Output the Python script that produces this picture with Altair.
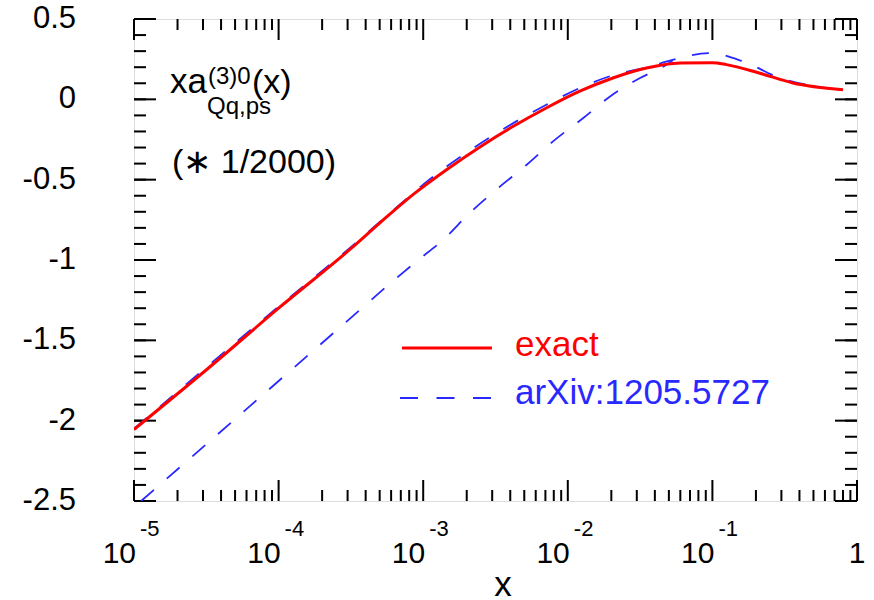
import altair as alt
import pandas as pd

W, H = 723, 482
FONT = "Liberation Sans"
RED = "#ff0000"
BLUE = "#2828ff"

# exact curve
red_x = [1.0e-5, 3.2e-5, 1.0e-4, 3.2e-4, 5.0e-4, 8.5e-4, 1.45e-3, 2.5e-3, 4.2e-3,
         7.1e-3, 1.2e-2, 2.05e-2, 3.5e-2, 6.0e-2, 1.0e-1, 1.25e-1, 2.1e-1, 3.6e-1, 8.0e-1]
red_y = [-2.055, -1.68, -1.30, -0.925, -0.77, -0.593, -0.438, -0.293, -0.168,
         -0.054, 0.049, 0.133, 0.195, 0.226, 0.228, 0.216, 0.164, 0.102, 0.060]

# arXiv:1205.5727 (upper approximation)
blue1_x = [1.0e-5, 1.0e-4, 3.2e-4, 6.5e-4, 1.1e-3, 1.9e-3, 4.2e-3, 7.1e-3, 1.2e-2,
           2.05e-2, 3.5e-2, 5.3e-2, 9.6e-2, 1.63e-1, 2.94e-1, 4.47e-1, 8.0e-1]
blue1_y = [-2.05, -1.29, -0.915, -0.675, -0.50, -0.345, -0.148, -0.034, 0.069,
           0.150, 0.198, 0.245, 0.288, 0.236, 0.133, 0.091, 0.060]

# arXiv:1205.5727 (lower approximation)
blue2_x = [1.12e-5, 3.16e-5, 1.0e-4, 3.16e-4, 5.6e-4, 9.0e-4, 1.38e-3, 2.1e-3, 3.3e-3,
           5.2e-3, 7.9e-3, 1.28e-2, 1.96e-2, 3.16e-2, 4.6e-2, 5.3e-2]
blue2_y = [-2.50, -2.147, -1.753, -1.36, -1.164, -1.008, -0.873, -0.707, -0.552,
           -0.407, -0.262, -0.116, 0.018, 0.133, 0.205, 0.242]

x_decades = [1e-5, 1e-4, 1e-3, 1e-2, 1e-1, 1.0]
x_minor = [k * d for d in x_decades[:-1] for k in range(2, 10)]
x_label_base = ["10", "10", "10", "10", "10"]
x_label_sup = ["-5", "-4", "-3", "-2", "-1"]
y_major = [-2.5, -2.0, -1.5, -1.0, -0.5, 0.0, 0.5]
y_labels = ["-2.5", "-2", "-1.5", "-1", "-0.5", "0", "0.5"]
y_minor = [round(-2.5 + 0.1 * i, 1) for i in range(31)]

xscale = alt.Scale(type="log", domain=[1e-5, 1], nice=False)
yscale = alt.Scale(domain=[-2.5, 0.5], nice=False, zero=False)


def curve(xs, ys, color, width, dash=None):
    kw = dict(color=color, strokeWidth=width, clip=True, interpolate="monotone")
    if dash:
        kw["strokeDash"] = dash
    return alt.Chart(pd.DataFrame({"x": xs, "y": ys})).mark_line(**kw).encode(
        x=alt.X("x:Q", scale=xscale, axis=None),
        y=alt.Y("y:Q", scale=yscale, axis=None),
    )


def xticks(vals, length):
    df = pd.DataFrame({"x": vals})
    b = alt.Chart(df).mark_rule(color="black", strokeWidth=2).encode(
        x=alt.X("x:Q", scale=xscale, axis=None), y=alt.value(H), y2=alt.value(H - length))
    t = alt.Chart(df).mark_rule(color="black", strokeWidth=2).encode(
        x=alt.X("x:Q", scale=xscale, axis=None), y=alt.value(0), y2=alt.value(length))
    return b + t


def yticks(vals, length):
    df = pd.DataFrame({"y": vals})
    l = alt.Chart(df).mark_rule(color="black", strokeWidth=2).encode(
        y=alt.Y("y:Q", scale=yscale, axis=None), x=alt.value(0), x2=alt.value(length))
    r = alt.Chart(df).mark_rule(color="black", strokeWidth=2).encode(
        y=alt.Y("y:Q", scale=yscale, axis=None), x=alt.value(W), x2=alt.value(W - length))
    return l + r


def text(s, px, py, size, color="black", align="left"):
    return alt.Chart(pd.DataFrame({"t": [s]})).mark_text(
        align=align, baseline="alphabetic", font=FONT, fontSize=size, color=color
    ).encode(x=alt.value(px - 134), y=alt.value(py - 19), text="t:N")


ylab = alt.Chart(pd.DataFrame({"y": y_major, "t": y_labels})).mark_text(
    align="right", baseline="middle", font=FONT, fontSize=31, color="black"
).encode(y=alt.Y("y:Q", scale=yscale, axis=None), x=alt.value(76 - 134), text="t:N")

xlab_df = pd.DataFrame({"x": x_decades[:-1], "b": x_label_base, "s": x_label_sup})
xlab_base = alt.Chart(xlab_df).mark_text(
    align="right", baseline="alphabetic", font=FONT, fontSize=30, dx=2, color="black"
).encode(x=alt.X("x:Q", scale=xscale, axis=None), y=alt.value(563 - 19), text="b:N")
xlab_sup = alt.Chart(xlab_df).mark_text(
    align="left", baseline="alphabetic", font=FONT, fontSize=22, dx=6, color="black"
).encode(x=alt.X("x:Q", scale=xscale, axis=None), y=alt.value(536 - 19), text="s:N")
xlab_one = alt.Chart(pd.DataFrame({"x": [1.0], "b": ["1"]})).mark_text(
    align="center", baseline="alphabetic", font=FONT, fontSize=30, color="black"
).encode(x=alt.X("x:Q", scale=xscale, axis=None), y=alt.value(563 - 19), text="b:N")

legend_red = alt.Chart(pd.DataFrame({"a": [0]})).mark_rule(color=RED, strokeWidth=3).encode(
    x=alt.value(402 - 134), x2=alt.value(492 - 134), y=alt.value(348 - 19))
legend_blue = alt.Chart(pd.DataFrame({"a": [0]})).mark_rule(
    color=BLUE, strokeWidth=1.8, strokeDash=[18, 18.5]).encode(
    x=alt.value(400 - 134), x2=alt.value(492 - 134), y=alt.value(398 - 19))

chart = alt.layer(
    yticks(y_minor, 12),
    yticks(y_major, 22),
    xticks(x_minor, 11),
    xticks(x_decades, 21),
    curve(blue2_x, blue2_y, BLUE, 1.8, [17, 17]),
    curve(blue1_x, blue1_y, BLUE, 1.8, [17, 17]),
    curve(red_x, red_y, RED, 3),
    ylab, xlab_base, xlab_sup, xlab_one,
    text("x", 503, 596, 35, align="center"),
    text("xa", 170, 93, 35),
    text("(3)0", 208, 84, 24),
    text("(x)", 252, 93, 34),
    text("Qq,ps", 207, 114, 24),
    text("(\u2217 1/2000)", 172, 173, 34),
    legend_red, legend_blue,
    text("exact", 515, 356, 35, color=RED),
    text("arXiv:1205.5727", 515, 404, 35, color=BLUE),
).properties(
    width=W, height=H, autosize="none",
    padding={"left": 134, "top": 19, "right": 17, "bottom": 99},
).configure_view(stroke="black", strokeWidth=2.5).configure(background="white")

chart.save("out.html", embed_options={"renderer": "svg", "actions": False})
